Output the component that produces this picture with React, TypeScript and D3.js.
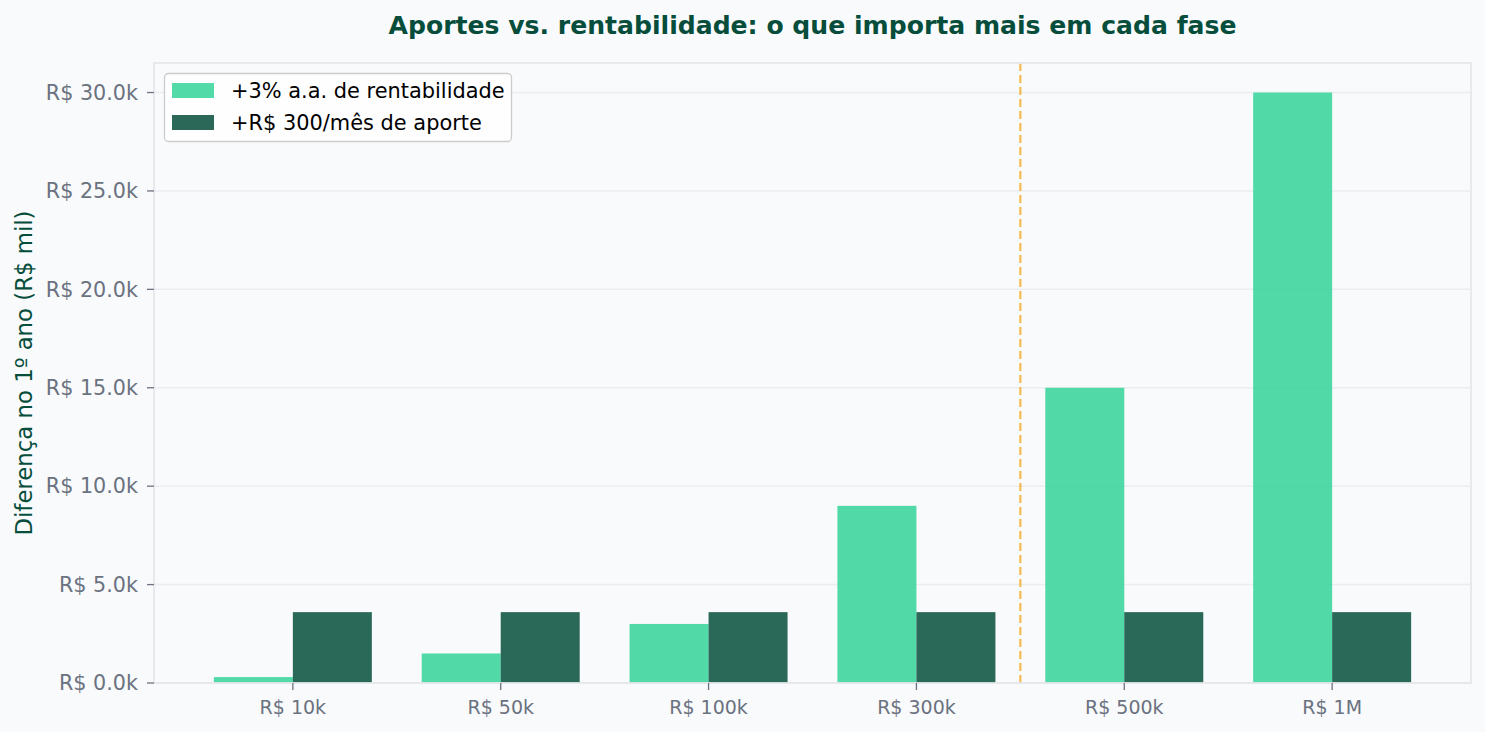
import React from 'react';
import * as d3 from 'd3';

// patrimônio inicial em cada fase
const faixas = ['R$ 10k', 'R$ 50k', 'R$ 100k', 'R$ 300k', 'R$ 500k', 'R$ 1M'];
// ganho extra no 1º ano, em R$ mil
const ganhoRentabilidade = [0.3, 1.5, 3, 9, 15, 30];
const ganhoAporte = [3.6, 3.6, 3.6, 3.6, 3.6, 3.6];
const yTicks = [0, 5, 10, 15, 20, 25, 30];
const series = [
  { nome: '+3% a.a. de rentabilidade', valores: ganhoRentabilidade, cor: '#34d399' },
  { nome: '+R$ 300/mês de aporte', valores: ganhoAporte, cor: '#064e3b' },
];
const divisor = 3.5;

const W = 1485;
const H = 732;
const margin = { top: 63, right: 14, bottom: 49, left: 154 };
const barW = 0.38;

export default function App() {
  const x = d3.scaleLinear()
    .domain([-0.668, faixas.length - 1 + 0.668])
    .range([margin.left, W - margin.right]);
  const y = d3.scaleLinear()
    .domain([0, 31.5])
    .range([H - margin.bottom, margin.top]);

  const [x0, x1] = x.range();
  const [yb, yt] = y.range();
  const fmtY = (v: number) => `R$ ${d3.format('.1f')(v)}k`;
  const font = 'DejaVu Sans, sans-serif';

  return (
    <svg width={W} height={H} style={{ position: 'absolute', left: 0, top: 0, background: '#f8fafc' }} fontFamily={font}>
      <rect x={0} y={0} width={W} height={H} fill="#f8fafc" />

      {/* grade horizontal */}
      {yTicks.map(t => (
        <line key={t} x1={x0} x2={x1} y1={y(t)} y2={y(t)} stroke="#e5e7eb" strokeOpacity={0.7} strokeWidth={1.5} />
      ))}

      {/* barras */}
      {series.map((s, si) => (
        <g key={s.nome} fill={s.cor} fillOpacity={0.85}>
          {s.valores.map((v, i) => {
            const left = si === 0 ? i - barW : i;
            return (
              <rect key={i} x={x(left)} y={y(v)} width={x(left + barW) - x(left)} height={y(0) - y(v)} />
            );
          })}
        </g>
      ))}

      {/* separação entre as fases */}
      <line x1={x(divisor)} x2={x(divisor)} y1={yt} y2={yb} stroke="#f59e0b" strokeOpacity={0.7}
        strokeWidth={2.2} strokeDasharray="8,4" />

      {/* bordas */}
      <rect x={x0} y={yt} width={x1 - x0} height={yb - yt} fill="none" stroke="#e5e7eb" strokeWidth={1.8} />

      {/* eixo y */}
      {yTicks.map(t => (
        <g key={t} transform={`translate(${x0},${y(t)})`}>
          <line x1={-7} x2={0} stroke="#6b7280" strokeWidth={1.3} />
          <text x={-16} dy="0.35em" textAnchor="end" fontSize={20.7} fill="#6b7280">{fmtY(t)}</text>
        </g>
      ))}

      {/* eixo x */}
      {faixas.map((f, i) => (
        <g key={f} transform={`translate(${x(i)},${yb})`}>
          <line y1={0} y2={7} stroke="#6b7280" strokeWidth={1.3} />
          <text y={31} textAnchor="middle" fontSize={19} fill="#6b7280">{f}</text>
        </g>
      ))}

      <text transform={`translate(32,${(yt + yb) / 2}) rotate(-90)`} textAnchor="middle" fontSize={22.8}
        fill="#064e3b">Diferença no 1º ano (R$ mil)</text>

      <text x={(x0 + x1) / 2} y={34} textAnchor="middle" fontSize={25.1} fontWeight="bold"
        fill="#064e3b">Aportes vs. rentabilidade: o que importa mais em cada fase</text>

      {/* legenda */}
      <g transform="translate(164,73)">
        <rect x={0.5} y={0.5} width={347} height={68} rx={4} fill="#ffffff" fillOpacity={0.8} stroke="#cccccc" strokeWidth={1.3} />
        {series.map((s, i) => (
          <g key={s.nome} transform={`translate(8,${10 + i * 32})`}>
            <rect x={0} y={0} width={42} height={15} fill={s.cor} fillOpacity={0.85} />
            <text x={59} y={7.5} dy="0.35em" fontSize={20.9} fill="#000">{s.nome}</text>
          </g>
        ))}
      </g>
    </svg>
  );
}
